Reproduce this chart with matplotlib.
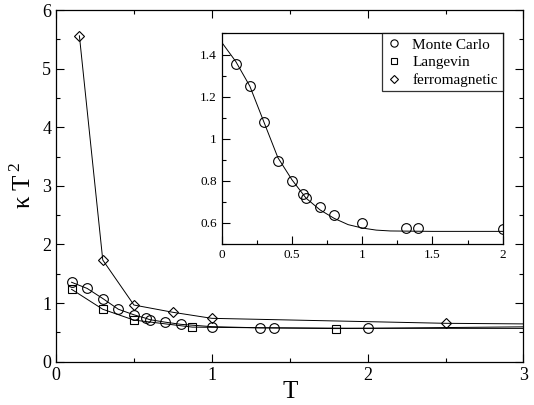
import numpy as np
import matplotlib
matplotlib.use('Agg')
import matplotlib.pyplot as plt
from matplotlib.ticker import MultipleLocator

plt.rcParams['font.family'] = ['Liberation Serif', 'DejaVu Serif']
plt.rcParams['mathtext.fontset'] = 'custom'
plt.rcParams['mathtext.rm'] = 'Liberation Serif'

# Monte Carlo
mc_T = [0.1, 0.2, 0.3, 0.4, 0.5, 0.58, 0.6, 0.7, 0.8, 1.0, 1.31, 1.4, 2.0, 4.0]
mc_k = [1.355, 1.25, 1.078, 0.895, 0.80, 0.738, 0.718, 0.675, 0.638, 0.598, 0.578, 0.578, 0.57, 0.567]

# Langevin
lg_T = [0.1, 0.3, 0.5, 0.875, 1.8, 4.0]
lg_k = [1.235, 0.895, 0.71, 0.59, 0.565, 0.62]

# ferromagnetic
fm_T = [0.15, 0.3, 0.5, 0.75, 1.0, 2.5, 4.0]
fm_k = [5.56, 1.735, 0.967, 0.843, 0.74, 0.655, 0.625]

# fit curve in the inset
fit_T = [0.0, 0.1, 0.2, 0.3, 0.4, 0.5, 0.6, 0.7, 0.8, 0.9, 1.0, 1.1, 1.2, 1.5, 2.0]
fit_k = [1.458, 1.367, 1.25, 1.08, 0.91, 0.805, 0.718, 0.662, 0.622, 0.592, 0.576, 0.566, 0.562, 0.56, 0.56]

fig = plt.figure(figsize=(5.34, 4.05), dpi=100)

ax = fig.add_axes([0.1049, 0.1069, 0.8754, 0.8684])
lw = 0.7
mew = 0.8
ax.plot(mc_T, mc_k, color='black', lw=lw, marker='o', ms=7, mfc='none', mec='black', mew=mew)
ax.plot(lg_T, lg_k, color='black', lw=lw, marker='s', ms=5.5, mfc='none', mec='black', mew=mew)
ax.plot(fm_T, fm_k, color='black', lw=lw, marker='D', ms=5, mfc='none', mec='black', mew=mew)

ax.set_xlim(0, 3)
ax.set_ylim(0, 6)
ax.xaxis.set_major_locator(MultipleLocator(1))
ax.xaxis.set_minor_locator(MultipleLocator(0.5))
ax.yaxis.set_major_locator(MultipleLocator(1))
ax.yaxis.set_minor_locator(MultipleLocator(0.5))
ax.tick_params(which='both', direction='in', top=True, right=True, labelsize=13, width=0.8)
ax.tick_params(which='major', length=6)
ax.tick_params(which='minor', length=3)
ax.set_xlabel('T', fontsize=18, labelpad=-2)
ax.set_ylabel('κ T$^{\\,2}$', fontsize=18, labelpad=4)
for s in ax.spines.values():
    s.set_linewidth(0.9)

# inset
ins = fig.add_axes([0.4152, 0.3975, 0.5262, 0.5198])
ins.plot(fit_T, fit_k, color='black', lw=lw)
ins.plot(mc_T, mc_k, ls='none', marker='o', ms=7, mfc='none', mec='black', mew=mew, label='Monte Carlo')
ins.plot([], [], ls='none', marker='s', ms=5.5, mfc='none', mec='black', mew=mew, label='Langevin')
ins.plot([], [], ls='none', marker='D', ms=5, mfc='none', mec='black', mew=mew, label='ferromagnetic')
ins.set_xlim(0, 2)
ins.set_ylim(0.5, 1.5)
ins.xaxis.set_minor_locator(MultipleLocator(0.25))
ins.yaxis.set_minor_locator(MultipleLocator(0.1))
ins.set_yticks([0.6, 0.8, 1.0, 1.2, 1.4])
ins.set_yticklabels(['0.6', '0.8', '1', '1.2', '1.4'])
ins.set_xticks([0, 0.5, 1, 1.5, 2])
ins.set_xticklabels(['0', '0.5', '1', '1.5', '2'])
ins.tick_params(which='both', direction='in', labelsize=9.5, width=0.8)
ins.tick_params(which='major', length=6)
ins.tick_params(which='minor', length=3)
for s in ins.spines.values():
    s.set_linewidth(0.9)

leg = ins.legend(loc='upper right', fontsize=11, frameon=True, fancybox=False,
                 borderaxespad=0, handlelength=1.0, handletextpad=0.7,
                 labelspacing=0.25, borderpad=0.3, markerscale=0.75)
leg.get_frame().set_edgecolor('black')
leg.get_frame().set_linewidth(0.9)

fig.savefig('out.png', dpi=100)
